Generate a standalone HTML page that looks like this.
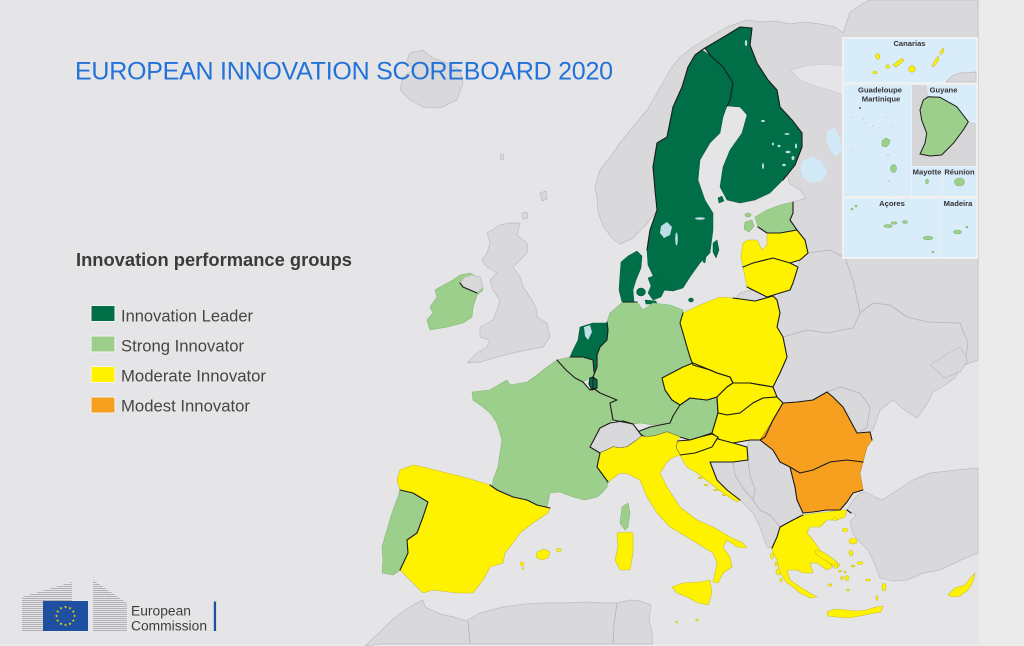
<!DOCTYPE html>
<html>
<head>
<meta charset="utf-8">
<style>
html,body{margin:0;padding:0;background:#e5e5e7;}
svg{display:block;}
.l{fill:#d9d9dc;stroke:#bdbdc1;stroke-width:.7;stroke-linejoin:round}
.dg{fill:#006f47;stroke:#065a3b;stroke-width:.5;stroke-linejoin:round}
.lg{fill:#9ccf8b;stroke:#86b777;stroke-width:.6;stroke-linejoin:round}
.y{fill:#fff200;stroke:#c8bd36;stroke-width:.6;stroke-linejoin:round}
.o{fill:#f7a01f;stroke:#c47f1a;stroke-width:.6;stroke-linejoin:round}
.yb{fill:#fff200;stroke:#1b1b1b;stroke-width:1.1;stroke-linejoin:round}
.lgb{fill:#9ccf8b;stroke:#1b1b1b;stroke-width:1.1;stroke-linejoin:round}
.dgb{fill:#006f47;stroke:#1b1b1b;stroke-width:1.1;stroke-linejoin:round}
.lb{fill:#d9d9dc;stroke:#1b1b1b;stroke-width:1.1;stroke-linejoin:round}
.b{fill:none;stroke:#1b1b1b;stroke-width:1.1;stroke-linejoin:round;stroke-linecap:round}
.gb{fill:none;stroke:#b4b4b9;stroke-width:.8;stroke-linejoin:round}
.lake{fill:#d2e9f7}
.flake{fill:#bfdde8}
.it{font-family:"Liberation Sans",sans-serif;font-size:7.6px;font-weight:bold;fill:#333;}
</style>
</head>
<body>
<svg width="1024" height="646" viewBox="0 0 1024 646" xmlns="http://www.w3.org/2000/svg">
<defs>
<pattern id="hl" width="4" height="2" patternUnits="userSpaceOnUse">
<rect x="0" y="0" width="4" height="1" fill="#b1b1b5"/>
</pattern>
<path id="st" d="M0,-1.6 L0.38,-0.53 L1.52,-0.49 L0.62,0.2 L0.94,1.29 L0,0.65 L-0.94,1.29 L-0.62,0.2 L-1.52,-0.49 L-0.38,-0.53 Z" fill="#ffdd00"/>
</defs>

<!-- background -->
<rect x="0" y="0" width="1024" height="646" fill="#e5e5e7"/>
<rect x="979" y="0" width="45" height="646" fill="#ebebec"/>
<rect x="0" y="644" width="979" height="2" fill="#ebebec"/>

<!-- non-EU land -->
<polygon class="l" fill="#dcdcdf" points="410,53 423,50 433,58 447,63 460,70 463,83 457,100 440,108 423,107 410,100 400,90 403,77 413,70 407,60"/>
<polygon class="l" points="500,225 510,223 520,223 517,235 527,243 528,252 520,260 513,267 520,277 523,287 532,300 537,310 537,317 547,323 550,337 543,347 527,350 513,353 497,357 480,362 467,363 477,353 487,347 490,340 480,337 480,327 493,320 497,310 500,300 493,290 490,280 497,273 487,267 482,260 487,253 490,243 487,233"/>
<polygon class="l" points="540,193 546,191 547,199 542,201"/>
<polygon class="l" points="522,213 527,212 528,218 523,219"/>
<polygon class="l" points="500,155 503,154 504,159 501,160"/>
<polygon class="l" points="620,244 612,238 603,226 598,212 597,198 595,187 600,170 613,153 620,143 633,127 647,110 657,93 670,70 680,57 693,47 710,37 727,27 747,20 760,22 775,21 790,24 805,22 820,24 835,27 843,33 850,12 862,4 870,0 978,0 978,360 972,362 962,366 955,378 945,385 933,392 927,404 917,418 907,412 893,400 880,410 873,430 870,432 857,433 850,420 843,407 833,397 827,392 813,400 797,402 783,403 777,397 773,387 780,373 787,357 783,337 777,327 780,313 777,300 780,293 790,290 793,283 798,267 800,260 808,253 805,240 797,230 790,220 793,213 793,202 800,200 806,198 800,190 790,184 760,100 700,95 657,210 645,226 633,238"/>
<polygon fill="#e5e5e7" stroke="#c6c6ca" stroke-width=".6" points="790,70 805,66 825,64 843,66 843,95 830,90 815,86 800,80"/>
<polygon class="l" points="710,462 733,462 748,460 747,447 750,440 760,440 773,450 780,462 790,467 795,487 797,500 803,513 793,520 780,527 777,537 772,548 767,547 760,527 753,513 743,503 740,500 727,490 717,480"/>
<polygon class="l" points="847,510 853,500 860,493 866,492 875,497 882,500 893,493 913,480 930,473 957,470 978,468 978,553 965,558 957,562 940,570 923,573 907,580 893,581 880,578 875,565 868,550 860,542 853,534 850,522 856,515"/>
<polygon class="l" points="365,646 380,632 392,620 405,610 415,604 423,600 425,607 440,614 454,617 466,621 480,613 503,607 525,604 544,603 565,603 585,602 605,603 618,603 630,600 640,601 651,605 649,620 652,632 653,644 380,644"/>
<polygon class="l" points="735,299 740,293 750,290 760,292 775,294 777,300 755,301"/>

<!-- grey borders in non-EU -->
<polyline class="gb" points="783,337 807,330 827,333 853,328 860,313 873,303 890,305 907,317 927,322 960,323 968,343 965,363"/>
<polyline class="gb" points="808,253 830,250 845,258 853,280 860,313"/>
<polyline class="gb" points="827,392 840,387 860,393 870,407 867,427 860,432"/>
<polyline class="gb" points="748,460 750,475 755,490 753,500 760,510 770,515 780,527"/>
<polyline class="gb" points="733,462 735,475 743,488 753,500"/>
<polyline class="gb" points="468,621 470,644"/>
<polyline class="gb" points="617,603 614,625 613,644"/>
<polygon class="l" fill="#dcdcdf" points="930,365 945,355 960,347 968,360 960,372 945,378"/>

<!-- lakes -->
<polygon class="lake" points="803,160 812,157 822,162 827,172 822,181 812,183 803,178 800,168"/>
<polygon class="lake" points="828,130 835,128 840,138 842,150 836,157 830,150 826,140"/>

<!-- EU: Innovation leaders -->
<polygon class="dg" points="705,48 727,35 740,27 752,28 750,45 757,63 768,80 777,90 780,107 792,120 802,133 802,147 795,165 783,180 770,193 755,200 740,203 727,200 720,187 723,167 730,150 742,133 747,115 740,107 727,106 730,100 733,83 723,67 710,55"/>
<polygon class="dg" points="702,50 710,55 723,67 733,83 730,100 727,106 723,117 720,133 710,143 700,160 698,180 705,200 713,213 713,230 710,253 700,263 690,277 683,288 673,291 663,290 655,280 648,265 647,250 650,230 657,210 655,190 653,167 657,143 667,137 673,107 682,87 688,67 695,55"/>
<polygon class="dg" points="713,243 717,240 719,250 716,258 713,252"/>
<polygon class="dg" points="705,253 707,250 705,263 703,262"/>
<polygon class="dg" points="718,198 722,196 724,201 719,203"/>
<polygon class="dg" points="621,262 628,256 637,251 642,256 641,268 636,280 633,290 634,302 622,302 619,290 620,275"/>
<ellipse class="dg" cx="641" cy="292" rx="4.5" ry="4"/>
<polygon class="dg" points="648,278 656,275 663,279 665,289 661,297 653,300 648,293 651,286"/>
<polygon class="dg" points="645,300 656,301 657,304 646,304"/>
<ellipse class="dg" cx="691" cy="300" rx="2.5" ry="2"/>
<polygon class="dg" points="580,327 593,323 607,323 608,330 607,340 600,347 597,355 597,367 594,372 593,360 583,357 570,357 573,350 578,340"/>

<!-- lakes on Sweden/Finland/NL -->
<polygon class="flake" points="661,226 667,222 672,227 670,235 664,238 660,233"/>
<ellipse class="flake" cx="676.5" cy="239" rx="1.3" ry="6.5"/>
<ellipse class="flake" cx="700" cy="218.5" rx="5" ry="1.3"/>
<ellipse class="flake" cx="746" cy="43" rx="1.2" ry="3"/>
<ellipse class="flake" cx="763" cy="121" rx="2" ry="1"/>
<ellipse class="flake" cx="787" cy="134" rx="2.5" ry="0.9"/>
<ellipse class="flake" cx="779" cy="146" rx="1.5" ry="1.2"/>
<ellipse class="flake" cx="788" cy="152" rx="2.5" ry="1.2"/>
<ellipse class="flake" cx="793" cy="158" rx="1.5" ry="2"/>
<ellipse class="flake" cx="763" cy="166" rx="1" ry="3"/>
<ellipse class="flake" cx="784" cy="165" rx="1.8" ry="1.2"/>
<ellipse class="flake" cx="796" cy="146" rx="1" ry="2.5"/>
<ellipse class="flake" cx="773" cy="144" rx="1" ry="1.5"/>
<polygon class="flake" points="584,327 590,325 592,332 588,340 585,336"/>

<!-- Strong innovators -->
<polygon class="lg" points="440,287 453,280 460,275 470,273 477,277 482,283 483,290 477,295 473,307 472,317 463,323 447,327 430,330 427,320 433,313 430,307 437,297 435,290"/>
<polygon class="l" points="460,283 465,277 472,275 480,277 483,287 477,293 470,290 463,287"/>
<polygon class="lg" points="755,217 767,210 780,205 793,202 793,213 790,220 797,230 780,233 767,233 758,227"/>
<polygon class="lg" points="745,222 752,220 754,226 749,232 744,229"/>
<ellipse class="lg" cx="748" cy="215" rx="3" ry="2"/>
<polygon class="lg" points="472,392 490,390 507,380 510,385 527,382 537,375 547,367 557,360 566,370 575,378 583,382 590,390 593,388 600,393 617,400 610,403 613,420 610,423 600,428 590,447 600,453 597,467 608,482 607,487 603,492 597,497 585,500 573,497 560,492 550,493 547,507 537,507 520,500 507,493 492,487 493,480 498,467 500,453 502,440 497,423 490,413 483,407 473,400"/>
<polygon class="lg" points="610,313 617,307 623,302 637,302 643,310 653,303 670,305 683,310 683,313 680,323 683,333 687,347 690,357 693,363 683,367 662,378 665,390 672,400 680,405 673,417 670,423 653,425 640,423 633,424 623,422 613,420 610,403 617,400 600,393 593,388 593,377 597,367 597,355 600,347 607,340 608,330 607,322"/>
<polygon class="lg" points="557,360 570,357 583,357 593,360 594,372 593,377 590,378 583,382 575,378 566,370"/>
<polygon class="dgb" points="590,378 593,377 597,380 597,388 592,390 589,384"/>
<polygon class="lgb" points="637,432 650,427 660,425 670,423 673,416 680,405 690,398 707,400 717,397 718,413 712,433 700,437 690,440 680,437 667,432 655,436 645,437"/>
<polygon class="lg" points="400,490 413,493 428,502 423,517 417,533 407,540 408,553 400,570 393,575 382,573 383,560 382,547 387,530 392,513 398,497"/>
<polygon class="lg" points="622,507 628,503 630,513 628,527 625,530 620,523"/>
<polygon class="lb" points="590,447 600,428 610,423 623,421 633,424 642,436 637,440 627,447 620,448 613,447 607,450 600,453"/>

<!-- Moderate innovators -->
<polygon class="y" points="743,243 748,240 757,240 762,250 767,245 767,233 780,233 797,230 805,240 808,253 800,260 790,263 773,258 753,263 743,267 741,257"/>
<polygon class="y" points="743,267 753,263 773,258 790,263 798,267 793,283 790,290 780,293 767,297 747,287 745,277"/>
<polygon class="y" points="683,313 700,305 720,297 733,298 755,301 773,296 777,300 780,313 777,327 783,337 787,357 780,373 773,387 750,383 733,383 730,377 717,373 710,370 693,365 690,357 687,347 683,333 680,323"/>
<polygon class="yb" points="662,378 683,367 693,363 710,370 717,373 730,377 733,383 727,387 717,397 707,400 690,398 680,405 672,400 665,390"/>
<polygon class="yb" points="717,397 727,387 733,383 750,383 773,387 777,397 763,398 753,403 740,413 727,415 718,413"/>
<polygon class="yb" points="718,413 727,415 740,413 753,403 763,398 777,397 783,403 773,420 765,437 760,440 750,440 733,443 720,440 712,433"/>
<polygon class="y" points="680,455 695,453 712,447 718,439 733,443 747,447 748,460 733,462 710,462 717,480 727,490 740,500 737,502 723,493 710,483 697,473 687,467 683,461"/>
<polygon class="yb" points="677,441 690,440 700,437 712,434 718,437 712,447 695,453 680,455 676,448"/>
<polygon class="y" points="600,453 607,450 613,447 620,448 627,447 637,440 642,436 645,437 655,436 667,432 680,437 677,441 676,448 680,455 672,458 667,462 660,473 667,487 680,507 697,520 713,527 730,537 743,543 747,548 737,547 727,540 723,547 730,557 732,567 723,573 718,583 713,582 715,573 717,563 713,553 703,547 687,537 670,527 657,513 647,497 640,480 628,474 620,473 608,482 597,467"/>
<polygon class="y" points="672,587 683,583 700,582 710,580 712,593 708,605 698,603 687,597 677,593"/>
<polygon class="y" points="617,533 627,532 633,533 633,553 630,570 620,570 615,560 618,547"/>
<polygon class="y" points="400,470 413,465 423,467 447,473 467,478 490,485 497,490 513,497 527,500 537,505 550,508 548,513 533,523 520,533 513,543 505,553 503,563 490,567 483,580 473,593 457,593 433,590 423,593 413,583 403,573 400,570 408,553 407,540 417,533 423,517 428,502 413,493 400,490 397,480"/>
<polygon class="y" points="537,552 544,549 550,552 548,558 541,560 536,557"/>
<ellipse class="y" cx="559" cy="550" rx="2.5" ry="1.5"/>
<ellipse class="y" cx="522" cy="564" rx="2" ry="2"/>
<ellipse class="y" cx="523" cy="568.5" rx="1" ry="0.8"/>
<polygon class="y" points="772,548 777,537 780,527 793,520 803,515 817,513 827,512 840,510 847,510 845,517 837,520 827,520 820,527 810,527 807,533 813,540 820,550 827,560 833,567 827,570 817,563 810,563 813,573 803,573 797,570 787,570 790,580 800,587 810,593 817,597 810,598 800,593 793,587 787,583 780,573 777,560 773,553"/>
<polygon class="y" points="816,550 823,552 832,558 840,565 837,568 828,562 820,557 815,553"/>
<polygon class="y" points="827,612 835,609 845,610 856,611 866,610 876,607 883,606 881,612 870,614 860,616 848,618 836,617 828,616"/>
<polygon class="y" points="948,595 955,588 965,585 972,576 975,573 973,582 968,590 960,596 952,597"/>
<g class="y">
<ellipse cx="853" cy="541" rx="4" ry="3"/>
<ellipse cx="845" cy="530" rx="2.5" ry="2"/>
<ellipse cx="835" cy="519" rx="2" ry="1.5"/>
<ellipse cx="851" cy="553" rx="2" ry="3"/>
<ellipse cx="860" cy="563" rx="3" ry="1.5"/>
<ellipse cx="853" cy="566" rx="2" ry="1"/>
<ellipse cx="847" cy="578" rx="2" ry="2.5"/>
<ellipse cx="842" cy="578" rx="1.5" ry="1.5"/>
<ellipse cx="836" cy="566" rx="1.5" ry="2.5"/>
<ellipse cx="840" cy="571" rx="1.5" ry="1"/>
<ellipse cx="845" cy="572" rx="1" ry="1"/>
<ellipse cx="830" cy="585" rx="2" ry="1.2"/>
<ellipse cx="848" cy="590" rx="1.5" ry="1"/>
<ellipse cx="868" cy="580" rx="2.5" ry="1"/>
<ellipse cx="884" cy="587" rx="2" ry="4"/>
<ellipse cx="877" cy="598" rx="1" ry="2.5"/>
<ellipse cx="772" cy="556" rx="1.5" ry="3"/>
<ellipse cx="778" cy="572" rx="2" ry="3"/>
<ellipse cx="781" cy="580" rx="1.5" ry="1.5"/>
<ellipse cx="776" cy="564" rx="1" ry="2"/>
<ellipse cx="700" cy="478" rx="2" ry="0.8"/>
<ellipse cx="706" cy="485" rx="2" ry="0.7"/>
<ellipse cx="716" cy="490" rx="2.5" ry="0.7"/>
<ellipse cx="724" cy="495" rx="2" ry="0.6"/>
<ellipse cx="676.5" cy="622" rx="1" ry="1"/>
<ellipse cx="697" cy="620" rx="1.2" ry="1"/>
</g>

<!-- Modest innovators -->
<polygon class="o" points="760,440 773,420 783,403 797,402 813,400 827,392 833,397 843,407 850,420 857,433 870,432 872,440 867,447 863,462 847,460 830,462 813,470 800,473 790,467 780,462 773,450"/>
<polygon class="o" points="790,467 800,473 813,470 830,462 847,460 863,462 860,473 863,490 853,493 847,502 840,510 827,510 813,512 803,513 797,500 795,487"/>

<!-- black land borders -->
<polyline class="b" points="647,250 650,230 657,210 655,190 653,167 657,143 667,137 673,107 682,87 688,67 695,55 702,50 705,48 727,35 740,27 752,28 750,45 757,63 768,80 777,90 780,107 792,120 802,133 802,147 795,165 783,180"/>
<polyline class="b" points="705,48 710,55 723,67 733,83 730,100 727,106"/>
<polyline class="b" points="793,202 793,213 790,220 797,230 805,240 808,253 800,260 790,263 798,267 793,283 790,290 780,293 767,297 747,287"/>
<polyline class="b" points="758,227 767,233 780,233 797,230"/>
<polyline class="b" points="743,267 753,263 773,258 790,263"/>
<polyline class="b" points="733,298 755,301 773,296 777,300 780,313 777,327 783,337 787,357 780,373 773,387 750,383 733,383 730,377 717,373 710,370 693,365 690,357 687,347 683,333 680,323 683,313"/>
<polyline class="b" points="623,302 637,302"/>
<polyline class="b" points="607,322 608,330 607,340 600,347 597,355 597,367 593,377 593,388 600,393 617,400 610,403 613,420 623,422 633,424"/>
<polyline class="b" points="570,357 583,357 593,360 594,372"/>
<polyline class="b" points="557,360 566,370 575,378 583,382 590,390 593,388"/>
<polyline class="b" points="600,453 597,467 608,482"/>
<polyline class="b" points="718,439 733,443 747,447 748,460 733,462 710,462 717,480 727,490 740,500"/>
<polyline class="b" points="872,440 870,432 857,433 850,420 843,407 833,397 827,392 813,400 797,402 783,403 773,420 765,437 760,440 773,450 780,462 790,467 800,473 813,470 830,462 847,460 863,462"/>
<polyline class="b" points="790,467 795,487 797,500 803,513 813,512 827,510 840,510 847,502 853,493 863,490"/>
<polyline class="b" points="772,548 777,537 780,527 793,520 803,515"/>
<polyline class="b" points="847,510 851,513"/>
<polyline class="b" points="400,490 413,493 428,502 423,517 417,533 407,540 408,553 400,570"/>
<polyline class="b" points="490,485 497,490 513,497 527,500 537,505 550,508"/>
<polyline class="b" points="460,283 463,287 470,290 477,293"/>

<!-- insets -->
<rect x="842" y="37" width="136" height="222" fill="#eef0f2"/>
<rect x="844" y="39" width="132" height="43" fill="#d8ecfa"/>
<polygon class="l" points="946,82 952,76 960,73 976,72 976,82"/>
<rect x="844" y="85" width="67" height="111" fill="#d8ecfa"/>
<rect x="912" y="85" width="64" height="81" fill="#d6d6d9"/>
<polygon fill="#d8ecfa" points="926.7,85 976,85 976,123 968,121.7 956.7,106.7 940,97.3 928.3,96.7"/>
<rect x="912" y="167" width="30" height="29" fill="#d8ecfa"/>
<rect x="943" y="167" width="33" height="29" fill="#d8ecfa"/>
<rect x="844" y="199" width="95" height="58" fill="#d8ecfa"/>
<rect x="940" y="199" width="36" height="58" fill="#d8ecfa"/>

<text class="it" x="909.5" y="46" text-anchor="middle">Canarias</text>
<text class="it" x="880" y="92.5" text-anchor="middle">Guadeloupe</text>
<text class="it" x="881" y="101.5" text-anchor="middle">Martinique</text>
<text class="it" x="943.5" y="92.5" text-anchor="middle">Guyane</text>
<text class="it" x="927" y="174.5" text-anchor="middle">Mayotte</text>
<text class="it" x="959.5" y="174.5" text-anchor="middle">Réunion</text>
<text class="it" x="892" y="206" text-anchor="middle">Açores</text>
<text class="it" x="958" y="206" text-anchor="middle">Madeira</text>

<g class="y">
<ellipse cx="875" cy="72.5" rx="2" ry="1.5"/>
<ellipse cx="877.7" cy="56.5" rx="2" ry="3"/>
<ellipse cx="887.7" cy="66.5" rx="1.8" ry="1.8"/>
<polygon points="893,65 898,61 902,58.5 904,60 900,64 896,67"/>
<circle cx="912" cy="69" r="3.3"/>
<polygon points="932,66 935,60 938,56 939,59 936,64 933,67"/>
<polygon points="940,52 943,48 944,51 941,55"/>
</g>

<polygon fill="#9ccf8b" stroke="#1b1b1b" stroke-width="1" stroke-linejoin="round" points="928.3,96.7 940,97.3 956.7,106.7 968.3,121.7 963.3,130 953.3,143.3 941.7,155 930,156 920,154 925,143.3 926.7,133.3 921.7,120 920,110 923.3,100"/>

<g fill="#c9ccd0">
<circle cx="853" cy="117" r="0.8"/><circle cx="863" cy="119" r="0.8"/><circle cx="866" cy="123" r="0.8"/>
<circle cx="873" cy="126" r="0.8"/><circle cx="880" cy="128" r="0.8"/><circle cx="886" cy="117" r="0.8"/>
<circle cx="893" cy="126" r="0.8"/><circle cx="888" cy="155" r="1"/><circle cx="889" cy="181" r="1"/><circle cx="890" cy="192" r="0.8"/>
<circle cx="851" cy="150" r="0.8"/>
</g>
<circle cx="860" cy="108" r="0.9" fill="#333"/>
<polygon class="lg" points="882,141 886,138 890,140 889,144 886,147 882,146"/>
<ellipse class="lg" cx="893.5" cy="168.5" rx="3" ry="4"/>
<ellipse class="lg" cx="927" cy="181.5" rx="1.5" ry="2.5"/>
<ellipse class="lg" cx="959.5" cy="182" rx="5" ry="4"/>
<g class="lg">
<ellipse cx="888" cy="226" rx="4" ry="1.5"/>
<ellipse cx="894" cy="223" rx="3" ry="1.2"/>
<ellipse cx="905" cy="222" rx="2.5" ry="1.5"/>
<ellipse cx="928" cy="238" rx="5" ry="1.8"/>
<ellipse cx="852" cy="209" rx="1" ry="1"/>
<ellipse cx="856" cy="206" rx="1" ry="1"/>
<ellipse cx="933" cy="252" rx="1" ry="0.8"/>
<ellipse cx="957.5" cy="232" rx="4" ry="2"/>
<ellipse cx="967" cy="227" rx="1" ry="1"/>
</g>

<!-- title -->
<text x="75" y="79.5" font-family="Liberation Sans, sans-serif" font-size="25" fill="#2272d9" textLength="538" lengthAdjust="spacing">EUROPEAN INNOVATION SCOREBOARD 2020</text>

<!-- legend -->
<text x="76" y="266" font-family="Liberation Sans, sans-serif" font-size="18.5" font-weight="bold" fill="#3b3b3b" textLength="276" lengthAdjust="spacingAndGlyphs">Innovation performance groups</text>
<rect x="91" y="305.5" width="24" height="16" fill="#006f47" stroke="#f4f4f4" stroke-width="1"/>
<rect x="91" y="336" width="24" height="16" fill="#9ccf8b" stroke="#f4f4f4" stroke-width="1"/>
<rect x="91" y="366.5" width="24" height="16" fill="#fff200" stroke="#f4f4f4" stroke-width="1"/>
<rect x="91" y="397" width="24" height="16" fill="#f7a01f" stroke="#f4f4f4" stroke-width="1"/>
<g font-family="Liberation Sans, sans-serif" font-size="17" fill="#454545">
<text x="121" y="321.5" textLength="132" lengthAdjust="spacingAndGlyphs">Innovation Leader</text>
<text x="121" y="351.5" textLength="123" lengthAdjust="spacingAndGlyphs">Strong Innovator</text>
<text x="121" y="381.5" textLength="145" lengthAdjust="spacingAndGlyphs">Moderate Innovator</text>
<text x="121" y="411.5" textLength="129" lengthAdjust="spacingAndGlyphs">Modest Innovator</text>
</g>

<!-- EC logo -->
<polygon points="22,597 72,582 72,631 22,631" fill="url(#hl)"/>
<polygon points="93,580 127,603 127,631 93,631" fill="url(#hl)"/>
<rect x="43" y="601" width="45" height="30" fill="#1e4fa0"/>
<use href="#st" x="65.5" y="607"/>
<use href="#st" x="70" y="608.2"/>
<use href="#st" x="73.3" y="611.5"/>
<use href="#st" x="74.5" y="616"/>
<use href="#st" x="73.3" y="620.5"/>
<use href="#st" x="70" y="623.8"/>
<use href="#st" x="65.5" y="625"/>
<use href="#st" x="61" y="623.8"/>
<use href="#st" x="57.7" y="620.5"/>
<use href="#st" x="56.5" y="616"/>
<use href="#st" x="57.7" y="611.5"/>
<use href="#st" x="61" y="608.2"/>
<text x="131" y="615.5" font-family="Liberation Sans, sans-serif" font-size="13.5" fill="#3d3d3d" textLength="60" lengthAdjust="spacingAndGlyphs">European</text>
<text x="131" y="630.5" font-family="Liberation Sans, sans-serif" font-size="13.5" fill="#3d3d3d" textLength="76" lengthAdjust="spacingAndGlyphs">Commission</text>
<rect x="213.8" y="601.5" width="2.3" height="29.5" fill="#1f4f9f"/>
</svg>
</body>
</html>
